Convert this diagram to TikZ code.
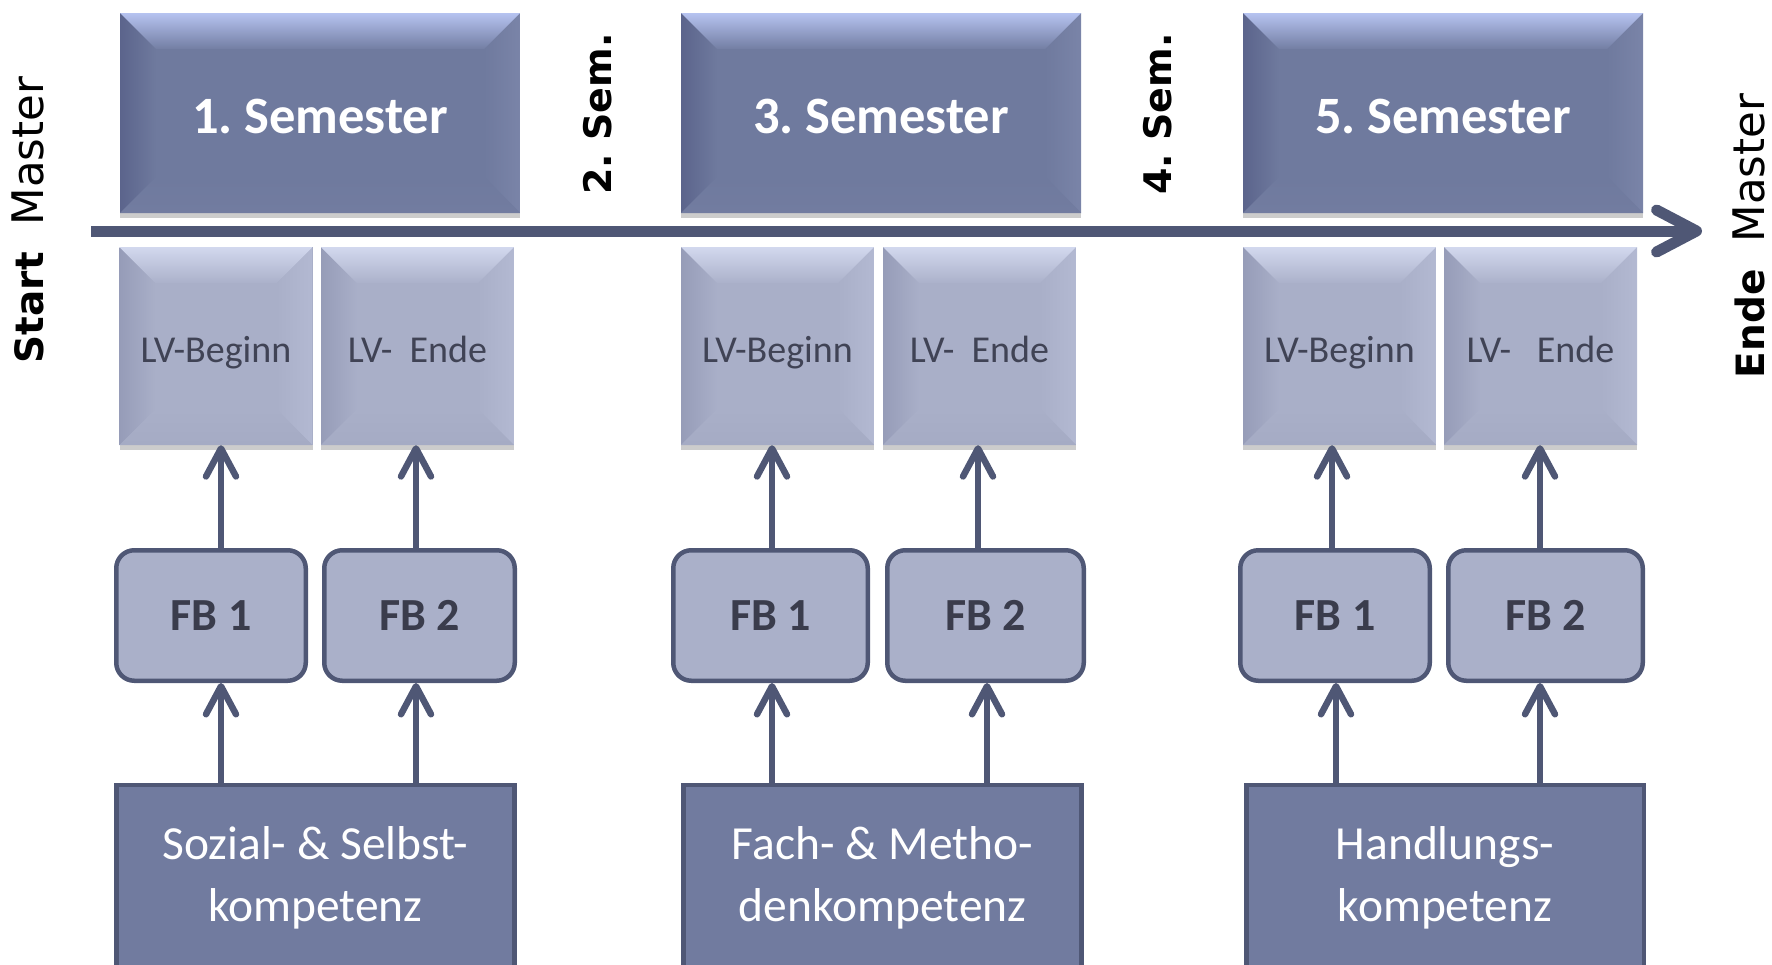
\documentclass[tikz,border=0pt]{standalone}
\usepackage{fontspec}
\setmainfont{Carlito}
\newfontfamily\dejavu{DejaVu Sans}
\usetikzlibrary{arrows.meta,shadows}
\frenchspacing

\definecolor{lineC}{HTML}{4F5775}
\definecolor{semFace}{HTML}{6F7A9E}
\definecolor{semTopA}{HTML}{B6C3F0}
\definecolor{semTopB}{HTML}{737EA3}
\definecolor{semLeft}{HTML}{5B648C}
\definecolor{semRight}{HTML}{7A84A8}
\definecolor{semBot}{HTML}{727CA0}
\definecolor{lvFace}{HTML}{A9AFC8}
\definecolor{lvTopA}{HTML}{D2D8EE}
\definecolor{lvTopB}{HTML}{ABB1CA}
\definecolor{lvLeft}{HTML}{969CB8}
\definecolor{lvRight}{HTML}{B3B9D2}
\definecolor{lvBot}{HTML}{A5ABC4}
\definecolor{fbFace}{HTML}{AAB0C9}
\definecolor{kFace}{HTML}{717B9F}
\definecolor{darkText}{HTML}{3A3C4C}
\definecolor{lvText}{HTML}{404355}

\tikzset{
  bev/.style n args={7}{% depth, topA, topB, left, right, bottom, face
    path picture={
      \path (path picture bounding box.north west) coordinate (bNW)
            (path picture bounding box.north east) coordinate (bNE)
            (path picture bounding box.south west) coordinate (bSW)
            (path picture bounding box.south east) coordinate (bSE);
      \shade[left color=#4, right color=#7] (bNW) -- ([xshift=#1,yshift=-#1]bNW) -- ([xshift=#1,yshift=#1]bSW) -- (bSW) -- cycle;
      \shade[left color=#7, right color=#5] (bNE) -- ([xshift=-#1,yshift=-#1]bNE) -- ([xshift=-#1,yshift=#1]bSE) -- (bSE) -- cycle;
      \shade[top color=#7, bottom color=#6] (bSW) -- ([xshift=#1,yshift=#1]bSW) -- ([xshift=-#1,yshift=#1]bSE) -- (bSE) -- cycle;
      \shade[top color=#2,bottom color=#3] (bNW) -- (bNE) -- ([xshift=-#1,yshift=-#1]bNE) -- ([xshift=#1,yshift=-#1]bNW) -- cycle;
    }},
  sembox/.style={fill=semFace, inner sep=0pt, minimum width=400pt, minimum height=200pt,
    bev={36pt}{semTopA}{semTopB}{semLeft}{semRight}{semBot}{semFace},
    drop shadow={shadow xshift=0pt, shadow yshift=-5pt, fill=black, opacity=0.2},
    text height=40pt, text depth=0pt,
    text=white, font=\fontsize{52.5}{60}\selectfont\bfseries},
  lvbox/.style={fill=lvFace, inner sep=0pt, minimum width=193pt, minimum height=198pt,
    bev={36pt}{lvTopA}{lvTopB}{lvLeft}{lvRight}{lvBot}{lvFace},
    drop shadow={shadow xshift=0pt, shadow yshift=-5pt, fill=black, opacity=0.2},
    text height=41pt, text depth=8pt,
    text=lvText, font=\fontsize{38}{44}\selectfont},
  fbbox/.style={fill=fbFace, draw=lineC, line width=4.5pt, rounded corners=18pt, inner sep=0pt,
    minimum height=130.5pt, text=darkText, font=\fontsize{46}{52}\selectfont\bfseries},
  kbox/.style={fill=kFace, draw=lineC, line width=4.5pt, inner sep=0pt, minimum height=186pt,
    minimum width=398pt, text=white, align=center, font=\fontsize{47.5}{62}\selectfont},
  side/.style={rotate=90, inner sep=0pt, text=black, font=\dejavu\fontsize{43.5}{48}\selectfont},
  semlbl/.style={rotate=90, inner sep=0pt, text=black, font=\dejavu\fontsize{38}{44}\selectfont\bfseries},
  arr/.style={draw=lineC, line width=6.5pt, -{Straight Barb[length=28pt,width=30pt,round]}},
  timeline/.style={draw=lineC, line width=11pt, -{Straight Barb[length=40pt,width=42pt,round]}},
}

\begin{document}
\begin{tikzpicture}[x=1pt,y=-1pt]
\useasboundingbox (0,0) rectangle (1772,964);
\clip (0,0) rectangle (1772,964);

% timeline
\coordinate (tlS) at (91,231);
\coordinate (tlE) at (1702,231);
\draw[timeline] (tlS) -- (tlE);

% side labels
\node[side] (start) at (28,220) {{\dejavu\fontsize{39}{48}\selectfont\bfseries Start}\hspace{27pt}Master};
\node[side] (ende) at (1749,236) {{\dejavu\fontsize{39}{48}\selectfont\bfseries Ende}\hspace{27pt}Master};
\node[semlbl] (sem2) at (598,114) {2. Sem.};
\node[semlbl] (sem4) at (1158,114) {4. Sem.};

% semester boxes
\node[sembox] (s1) at (320,113) {1. Semester};
\node[sembox] (s3) at (881,113) {3. Semester};
\node[sembox] (s5) at (1443,113) {5. Semester};

% LV boxes
\node[lvbox] (lv11) at (216,346) {LV-Beginn};
\node[lvbox] (lv12) at (417.5,346) {LV-\ \ Ende};
\node[lvbox] (lv31) at (777.5,346) {LV-Beginn};
\node[lvbox] (lv32) at (979.5,346) {LV-\ \ Ende};
\node[lvbox] (lv51) at (1339.5,346) {LV-Beginn};
\node[lvbox] (lv52) at (1540.5,346) {LV-\ \ \ Ende};

% FB boxes
\node[fbbox, minimum width=189.5pt] (fb11) at (211,615.5) {FB 1};
\node[fbbox, minimum width=190.5pt] (fb12) at (419.5,615.5) {FB 2};
\node[fbbox, minimum width=194.5pt] (fb31) at (770.5,615.5) {FB 1};
\node[fbbox, minimum width=196.5pt] (fb32) at (985.5,615.5) {FB 2};
\node[fbbox, minimum width=189.5pt] (fb51) at (1335,615.5) {FB 1};
\node[fbbox, minimum width=194.5pt] (fb52) at (1545.5,615.5) {FB 2};

% competence boxes
\node[kbox] (k1) at (315.5,878) {Sozial- \& Selbst-\\kompetenz};
\node[kbox] (k3) at (882.5,878) {Fach- \& Metho-\\denkompetenz};
\node[kbox, minimum width=397.5pt] (k5) at (1445,878) {Handlungs-\\kompetenz};

% arrow columns
\coordinate (u11) at (221,0);  \coordinate (u12) at (416,0);
\coordinate (u31) at (772,0);  \coordinate (u32) at (978,0);
\coordinate (u51) at (1332,0); \coordinate (u52) at (1540,0);
\coordinate (d11) at (221,0);  \coordinate (d12) at (416,0);
\coordinate (d31) at (772,0);  \coordinate (d32) at (987,0);
\coordinate (d51) at (1336,0); \coordinate (d52) at (1540,0);

% FB -> LV
\draw[arr] (fb11.north -| u11) -- (lv11.south -| u11);
\draw[arr] (fb12.north -| u12) -- (lv12.south -| u12);
\draw[arr] (fb31.north -| u31) -- (lv31.south -| u31);
\draw[arr] (fb32.north -| u32) -- (lv32.south -| u32);
\draw[arr] (fb51.north -| u51) -- (lv51.south -| u51);
\draw[arr] (fb52.north -| u52) -- (lv52.south -| u52);

% competence -> FB
\draw[arr] (k1.north -| d11) -- (fb11.south -| d11);
\draw[arr] (k1.north -| d12) -- (fb12.south -| d12);
\draw[arr] (k3.north -| d31) -- (fb31.south -| d31);
\draw[arr] (k3.north -| d32) -- (fb32.south -| d32);
\draw[arr] (k5.north -| d51) -- (fb51.south -| d51);
\draw[arr] (k5.north -| d52) -- (fb52.south -| d52);
\end{tikzpicture}
\end{document}
